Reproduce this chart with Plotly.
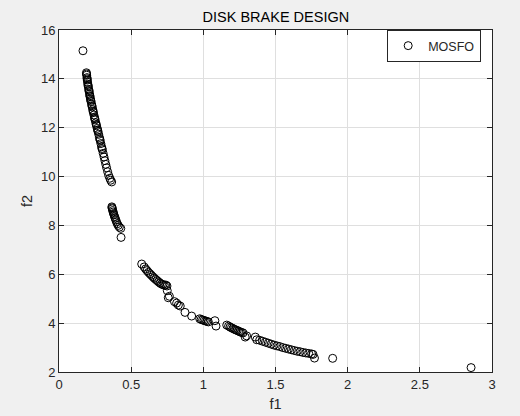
import plotly.graph_objects as go

# Pareto front points (f1, f2)
f1_values = [
    0.166,
    # upper steep band
    0.190, 0.191, 0.192, 0.194, 0.195, 0.196, 0.198, 0.200, 0.202, 0.203, 0.206, 0.208, 0.209,
    0.212, 0.214, 0.215, 0.218, 0.220, 0.222, 0.226, 0.228, 0.230, 0.234, 0.236, 0.238, 0.242,
    0.246, 0.248, 0.250, 0.255, 0.258, 0.260, 0.265, 0.268, 0.270, 0.275, 0.280, 0.283, 0.285,
    0.290, 0.295, 0.298, 0.300, 0.306, 0.312, 0.318, 0.324, 0.330, 0.337, 0.344, 0.352, 0.358,
    0.365,
    # second band
    0.366, 0.368, 0.369, 0.372, 0.375, 0.378, 0.381, 0.385, 0.389, 0.393, 0.398, 0.404, 0.410,
    0.418, 0.428, 0.430,
    # middle band
    0.573, 0.590, 0.600, 0.610, 0.620, 0.630, 0.640, 0.650, 0.660, 0.670, 0.680, 0.690, 0.700,
    0.710, 0.720, 0.730, 0.740, 0.748, 0.750, 0.757, 0.765, 0.800, 0.815, 0.827, 0.840, 0.873,
    0.919, 0.975, 0.985, 0.995, 1.005, 1.015, 1.025, 1.035, 1.080, 1.088,
    # lower band
    1.162, 1.175, 1.185, 1.195, 1.205, 1.215, 1.225, 1.235, 1.245, 1.255, 1.265, 1.275, 1.290,
    1.300, 1.360, 1.370, 1.390, 1.410, 1.430, 1.450, 1.470, 1.490, 1.510, 1.530, 1.550, 1.570,
    1.590, 1.610, 1.630, 1.650, 1.670, 1.690, 1.710, 1.730, 1.750, 1.760, 1.770,
    # tail
    1.896, 2.855,
]
f2_values = [
    15.15,
    14.25, 14.20, 14.15, 14.05, 14.00, 13.95, 13.86, 13.78, 13.72, 13.68, 13.57, 13.52, 13.47,
    13.37, 13.31, 13.27, 13.18, 13.12, 13.07, 12.96, 12.90, 12.85, 12.74, 12.68, 12.63, 12.52,
    12.42, 12.37, 12.32, 12.20, 12.13, 12.08, 11.97, 11.90, 11.85, 11.73, 11.60, 11.53, 11.48,
    11.35, 11.22, 11.15, 11.10, 10.95, 10.80, 10.65, 10.50, 10.36, 10.20, 10.05, 9.93, 9.85,
    9.78,
    8.76, 8.72, 8.68, 8.61, 8.55, 8.49, 8.43, 8.36, 8.30, 8.23, 8.15, 8.07, 8.00,
    7.93, 7.88, 7.51,
    6.42, 6.30, 6.22, 6.15, 6.08, 6.02, 5.96, 5.90, 5.84, 5.79, 5.74, 5.69, 5.64,
    5.60, 5.58, 5.55, 5.56, 5.52, 5.33, 5.04, 5.10, 4.88, 4.82, 4.74, 4.70, 4.44,
    4.29, 4.18, 4.15, 4.13, 4.11, 4.09, 4.07, 4.05, 4.10, 3.88,
    3.92, 3.88, 3.84, 3.81, 3.78, 3.75, 3.72, 3.70, 3.67, 3.64, 3.62, 3.60, 3.43,
    3.48, 3.43, 3.32, 3.30, 3.26, 3.22, 3.18, 3.14, 3.10, 3.07, 3.04, 3.00, 2.97,
    2.94, 2.91, 2.88, 2.85, 2.83, 2.80, 2.78, 2.76, 2.74, 2.72, 2.57,
    2.56, 2.18,
]

x_ticks = [0, 0.5, 1, 1.5, 2, 2.5, 3]
x_tick_labels = ["0", "0.5", "1", "1.5", "2", "2.5", "3"]
y_ticks = [2, 4, 6, 8, 10, 12, 14, 16]
y_tick_labels = ["2", "4", "6", "8", "10", "12", "14", "16"]

FONT = "Liberation Sans, Arial, sans-serif"
TXT = "#262626"

fig = go.Figure()
fig.add_trace(go.Scatter(
    x=f1_values, y=f2_values, mode="markers", name="MOSFO",
    marker=dict(symbol="circle-open", size=8, color="black", line=dict(width=1, color="black")),
))

axis_common = dict(
    showgrid=True, gridcolor="#dfdfdf", gridwidth=1,
    showline=True, linecolor="#262626", linewidth=1, mirror="ticks",
    ticks="inside", ticklen=5, tickcolor="#262626",
    tickfont=dict(family=FONT, size=13, color=TXT),
    zeroline=False, automargin=False,
)

fig.update_layout(
    width=520, height=416,
    margin=dict(l=59, r=28, t=30, b=44),
    paper_bgcolor="#f0f0f0", plot_bgcolor="white",
    title=dict(text="DISK BRAKE DESIGN", x=0.5305, xanchor="center", y=0.96, yanchor="middle",
               font=dict(family=FONT, size=14.5, color="#000000")),
    xaxis=dict(range=[0, 3], tickvals=x_ticks, ticktext=x_tick_labels,
               title=dict(text="f1", font=dict(family=FONT, size=14.5, color=TXT), standoff=8),
               **axis_common),
    yaxis=dict(range=[2, 16], tickvals=y_ticks, ticktext=y_tick_labels,
               title=dict(text="f2", font=dict(family=FONT, size=14.5, color=TXT), standoff=4),
               **axis_common),
    showlegend=True,
    legend=dict(x=0.975, y=1.0, xanchor="right", yanchor="top",
                bgcolor="white", bordercolor="#262626", borderwidth=1,
                font=dict(family=FONT, size=12.5, color=TXT),
                itemwidth=30),
)

fig.write_html(
    "out.html",
    config={"displayModeBar": False},
    post_script="document.body.style.margin='0';document.body.style.background='#f0f0f0';",
)
